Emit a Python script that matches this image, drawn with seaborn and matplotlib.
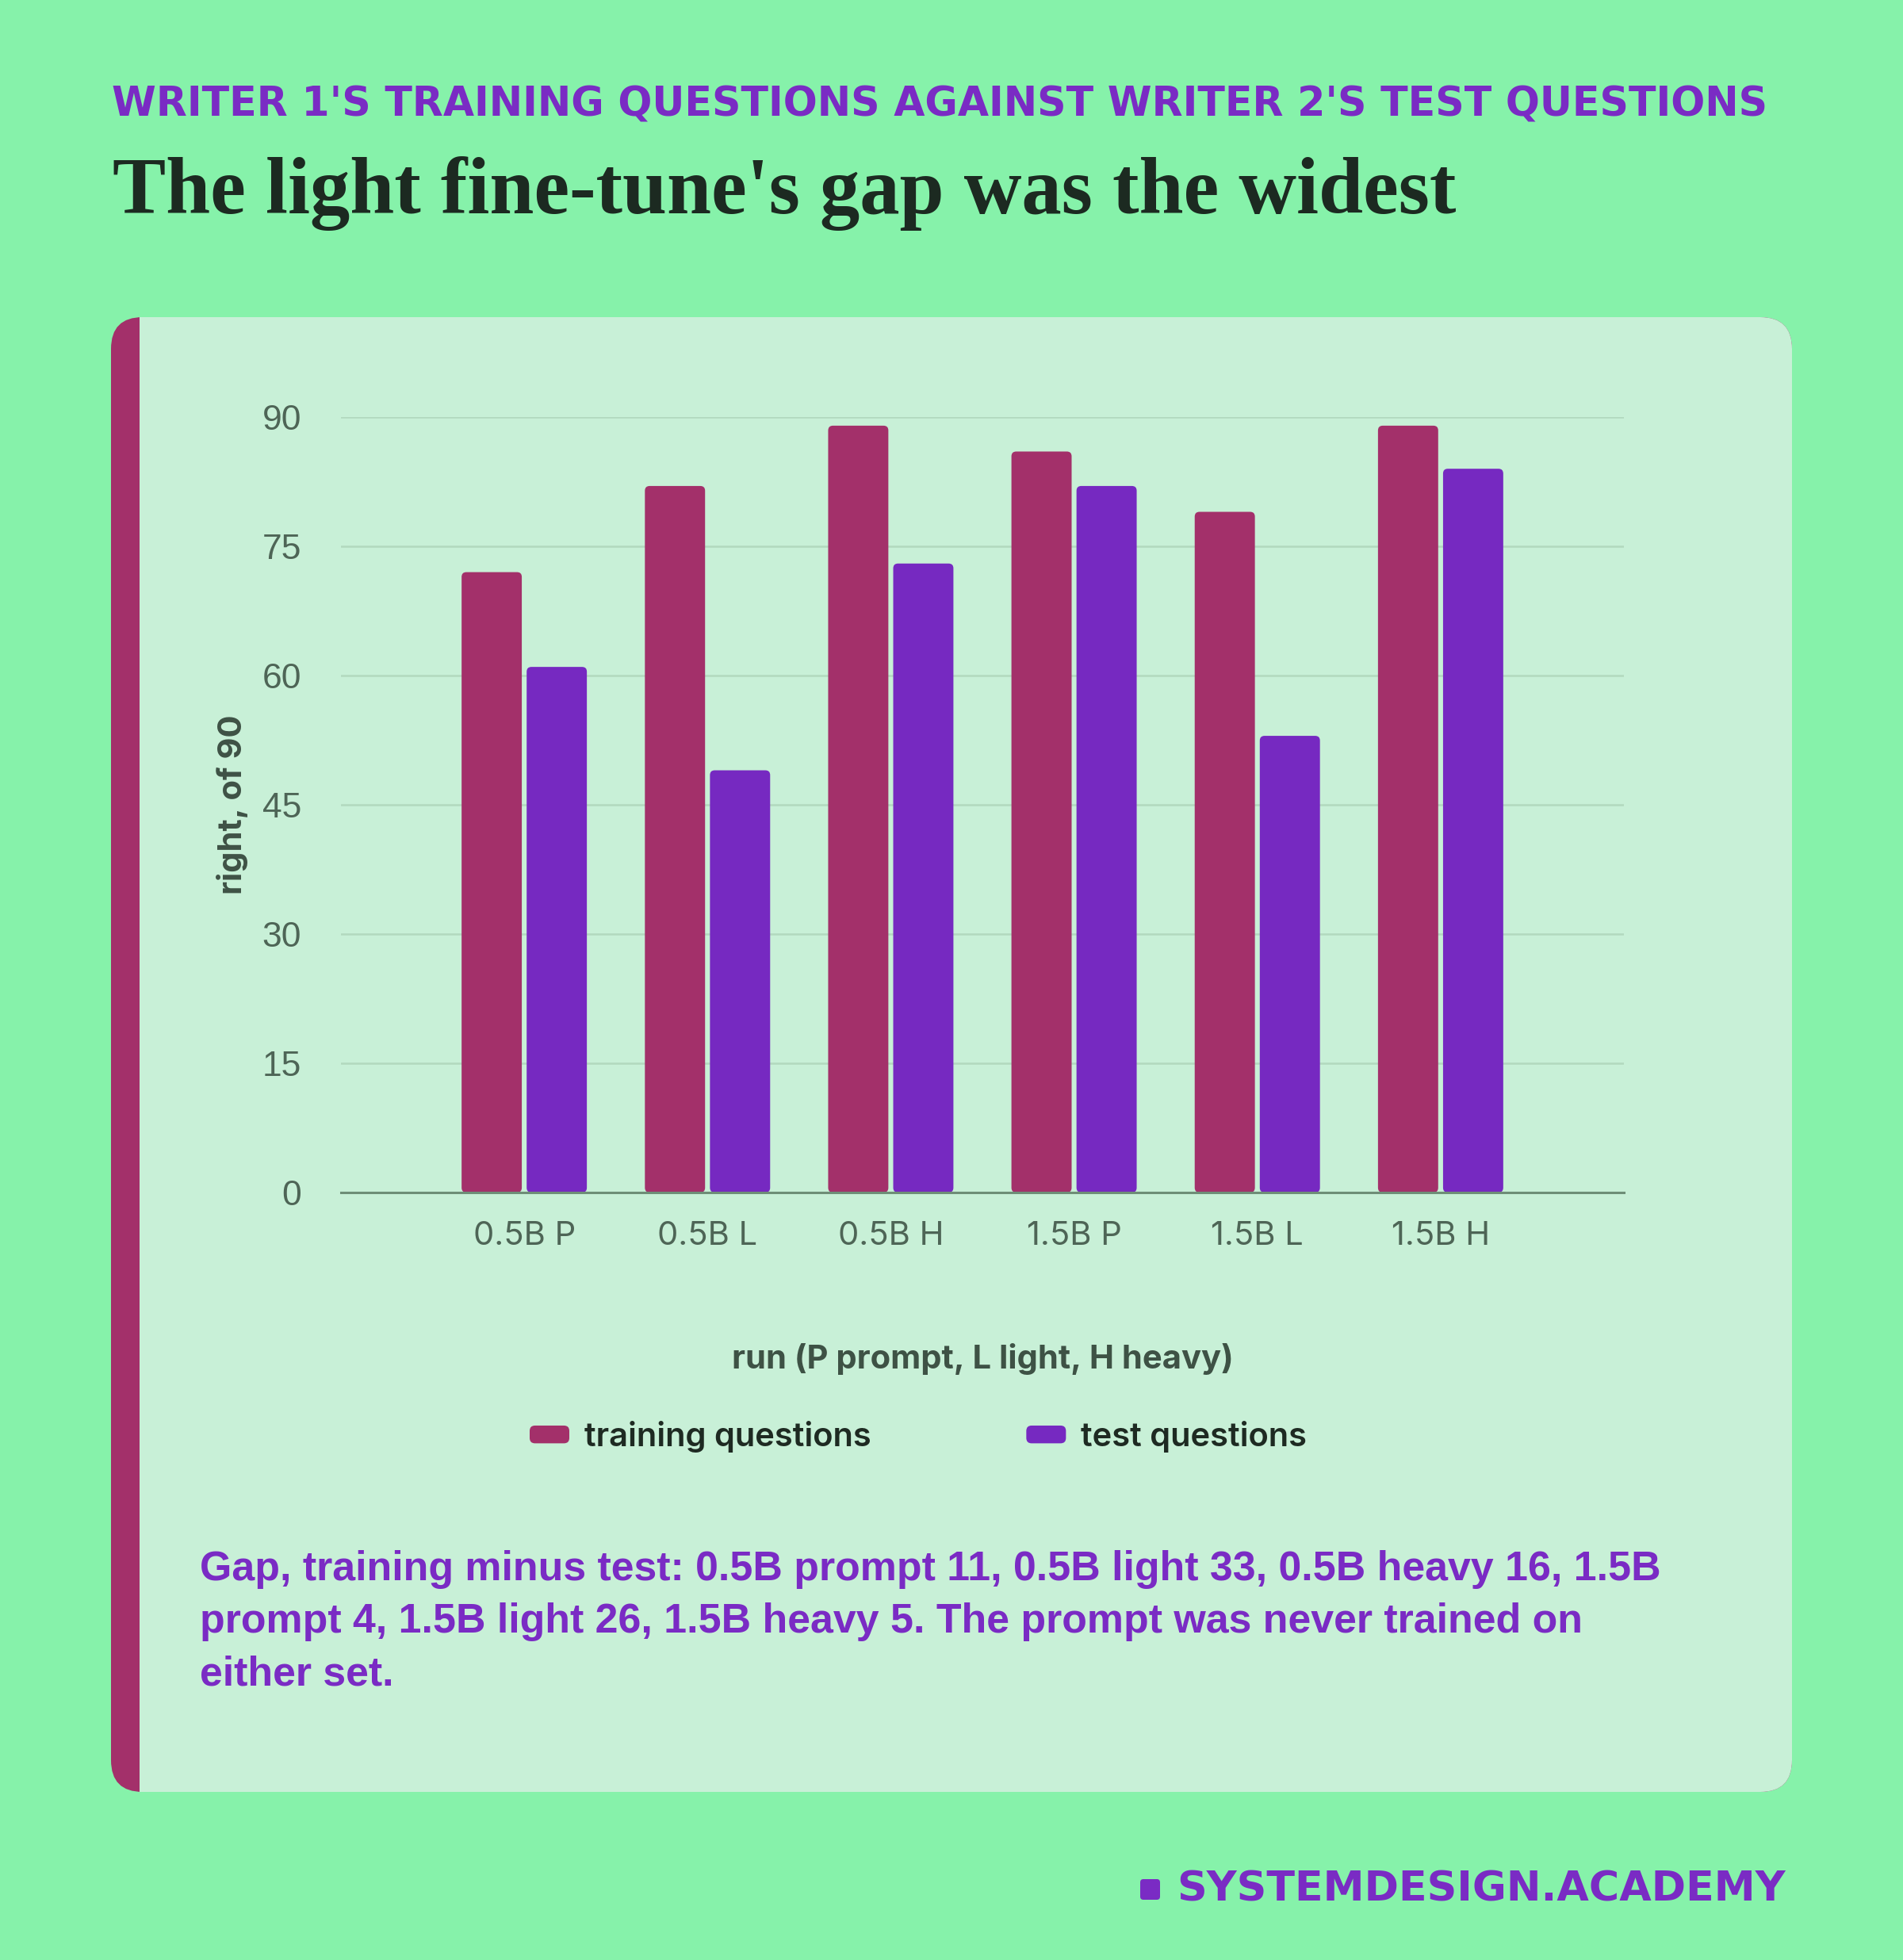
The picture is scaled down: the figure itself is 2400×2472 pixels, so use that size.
import matplotlib
matplotlib.use("Agg")
import matplotlib.pyplot as plt
from matplotlib.patches import FancyBboxPatch, Rectangle, Patch
from matplotlib.legend_handler import HandlerPatch
import seaborn as sns
import pandas as pd

# data
runs = ["0.5B P", "0.5B L", "0.5B H", "1.5B P", "1.5B L", "1.5B H"]
training = [72, 82, 89, 86, 79, 89]
test = [61, 49, 73, 82, 53, 84]
series_names = ["training questions", "test questions"]
y_ticks = [0, 15, 30, 45, 60, 75, 90]

header = "WRITER 1'S TRAINING QUESTIONS AGAINST WRITER 2'S TEST QUESTIONS"
title = "The light fine-tune's gap was the widest"
note = ("Gap, training minus test: 0.5B prompt 11, 0.5B light 33, 0.5B heavy 16, 1.5B\n"
        "prompt 4, 1.5B light 26, 1.5B heavy 5. The prompt was never trained on\n"
        "either set.")
brand = "SYSTEMDESIGN.ACADEMY"

# colours
BG = "#86F2AA"
PANEL = "#C8F0D7"
MAGENTA = "#A3306A"
PURPLE = "#7629C1"
ACCENT = "#7A2BC4"
TITLE_C = "#1C2A21"
GRID_C = "#B2D9BE"
SPINE_C = "#6E8E77"
TICK_C = "#4E6556"
LABEL_C = "#3E5245"
LEGEND_C = "#1E2A22"

W, H, DPI = 2400, 2472, 200

sns.set_style("white")
plt.rcParams["font.family"] = ["Liberation Sans", "DejaVu Sans"]

fig = plt.figure(figsize=(W / DPI, H / DPI), dpi=DPI, facecolor=BG)

# background layer in pixel coordinates (y going down)
bg = fig.add_axes([0, 0, 1, 1], zorder=0)
bg.set_xlim(0, W)
bg.set_ylim(H, 0)
bg.axis("off")

# card with magenta strip on the left
bg.add_patch(FancyBboxPatch((140, 400), 2120, 1860, boxstyle="round,pad=0,rounding_size=40",
                            fc=MAGENTA, ec="none"))
bg.add_patch(FancyBboxPatch((176, 400), 2084, 1860, boxstyle="round,pad=0,rounding_size=40",
                            fc=PANEL, ec="none"))
bg.add_patch(Rectangle((176, 400), 80, 1860, fc=PANEL, ec="none"))

# main chart
ax = fig.add_axes([430 / W, 1 - 1504 / H, (2048 - 430) / W, (1504 - 526) / H], zorder=2)
ax.set_facecolor("none")

df = pd.DataFrame({
    "run": runs * 2,
    "set": [series_names[0]] * len(runs) + [series_names[1]] * len(runs),
    "score": training + test,
})
sns.barplot(data=df, x="run", y="score", hue="set", palette=[MAGENTA, PURPLE],
            saturation=1, width=0.71, gap=0.075, legend=False, ax=ax)

ax.set_xlim(-1, len(runs))
ax.set_ylim(0, 90)
ax.set_yticks(y_ticks)

# swap the square bars for rounded ones
box = ax.get_window_extent()
xspan = len(runs) + 1
asp = (90 / box.height) / (xspan / box.width)
rad = 6 * xspan / box.width
for bar in list(ax.patches):
    rb = FancyBboxPatch((bar.get_x(), bar.get_y()), bar.get_width(), bar.get_height(),
                        boxstyle=f"round,pad=0,rounding_size={rad}", mutation_aspect=asp,
                        fc=bar.get_facecolor(), ec="none", zorder=2)
    bar.remove()
    ax.add_patch(rb)

ax.yaxis.grid(True, color=GRID_C, lw=0.9)
ax.xaxis.grid(False)
ax.set_axisbelow(True)
for side in ["top", "right", "left"]:
    ax.spines[side].set_visible(False)
ax.spines["bottom"].set_color(SPINE_C)
ax.spines["bottom"].set_linewidth(1.1)
ax.spines["bottom"].set_zorder(4)

ax.tick_params(axis="x", length=6, width=0.7, color=SPINE_C, pad=7,
               labelsize=15, labelcolor=TICK_C)
ax.tick_params(axis="y", length=0, pad=18, labelsize=16, labelcolor=TICK_C)
for lbl in ax.get_xticklabels():
    lbl.set_family(["Inter", "Liberation Sans", "DejaVu Sans"])

lab_font = dict(family=["Inter", "DejaVu Sans"], fontweight="bold", color=LABEL_C, fontsize=15)
ax.set_xlabel("run (P prompt, L light, H heavy)", **lab_font)
ax.set_ylabel("right, of 90", **lab_font)
ax.xaxis.set_label_coords(0.5, (1504 - 1694) / (1504 - 526))
ax.yaxis.set_label_coords((313 - 430) / (2048 - 430), 0.5)


class RoundHandle(HandlerPatch):
    def create_artists(self, legend, orig_handle, xdescent, ydescent, width, height,
                       fontsize, trans):
        p = FancyBboxPatch((-xdescent, -ydescent), width, height,
                           boxstyle=f"round,pad=0,rounding_size={height * 0.3}",
                           fc=orig_handle.get_facecolor(), ec="none", transform=trans)
        return [p]


handles = [Patch(fc=MAGENTA, ec="none"), Patch(fc=PURPLE, ec="none")]
fig.legend(handles, series_names, loc="center left", bbox_to_anchor=(668 / W, 1 - 1812 / H),
           ncol=2, frameon=False, handlelength=1.2, handleheight=0.45, handletextpad=0.45,
           columnspacing=4.7, borderpad=0, borderaxespad=0, labelcolor=LEGEND_C,
           handler_map={Patch: RoundHandle()},
           prop=dict(family=["Inter", "DejaVu Sans"], weight="semibold", size=15))

# texts around the card
renderer = fig.canvas.get_renderer()


def fit_width(t, target):
    w = t.get_window_extent(renderer=renderer).width
    t.set_fontsize(t.get_fontsize() * target / w)


t_head = bg.text(141, 146, header, ha="left", va="baseline", color=ACCENT,
                 family=["DejaVu Sans"], fontweight="bold", fontsize=19)
fit_width(t_head, 2087)

t_title = bg.text(142, 269, title, ha="left", va="baseline", color=TITLE_C,
                  family=["Liberation Serif", "DejaVu Serif"], fontweight="bold", fontsize=34)
fit_width(t_title, 1696)

bg.text(252, 1955, note, ha="left", va="top", color=ACCENT, fontweight="bold",
        fontsize=18.7, linespacing=1.45)

t_brand = bg.text(2252, 2398, brand, ha="right", va="baseline", color=ACCENT,
                  family=["DejaVu Sans"], fontweight="bold", fontsize=19)
fit_width(t_brand, 767)
bg.add_patch(FancyBboxPatch((1438, 2370), 25, 26, boxstyle="round,pad=0,rounding_size=4",
                            fc=ACCENT, ec="none"))

fig.savefig("out.png", dpi=DPI, facecolor=BG)
